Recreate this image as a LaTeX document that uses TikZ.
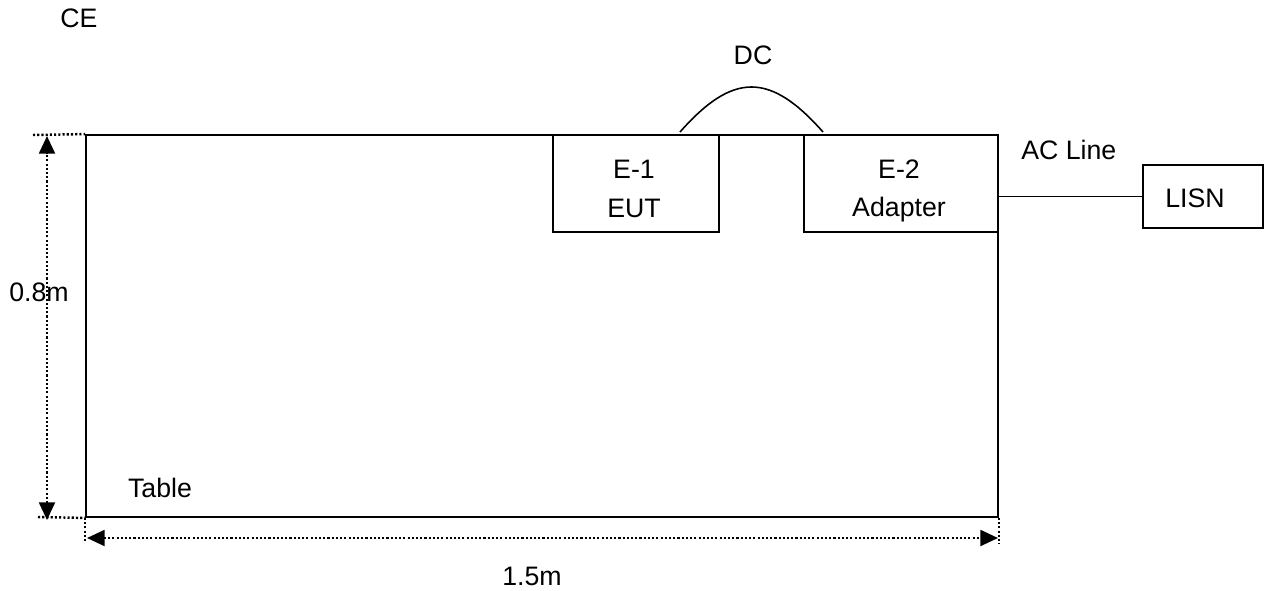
\documentclass[tikz,border=0pt]{standalone}
\usepackage{fontspec}
\setmainfont{Liberation Sans}
\usetikzlibrary{arrows.meta, positioning, calc}

\begin{document}
\begin{tikzpicture}[x=0.02cm, y=-0.02cm,
      font=\fontsize{15.2}{22}\selectfont,
      box/.style={rectangle, draw=black, line width=0.9pt, inner sep=0pt},
      lbl/.style={inner sep=0pt, align=center},
      dim/.style={line width=1.4pt, dash pattern=on 1.2pt off 1.2pt, {Triangle[length=10pt,width=9pt]}-{Triangle[length=10pt,width=9pt]}},
      ext/.style={line width=1.4pt, dash pattern=on 1.2pt off 1.2pt},
      cable/.style={line width=0.9pt}
    ]
      \useasboundingbox (0,0) rectangle (1271,591);

      \node[box, line width=1.1pt, minimum width=18.24cm, minimum height=7.64cm] (table) at (542,326) {};
      \node[box, minimum width=3.32cm, minimum height=1.94cm] (E1) at (636,183.5) {};
      \node[box, minimum width=3.88cm, minimum height=1.94cm] (E2) at (901,183.5) {};
      \node[box, minimum width=2.4cm, minimum height=1.26cm] (LISN) at (1203,196.5) {};

      \node[lbl] (E1txt) at (634,189) {E-1\\EUT};
      \node[lbl] (E2txt) at (899,191) {E-2\\Adapter};
      \node[lbl] (LISNtxt) at (1195,198) {LISN};
      \node[lbl, anchor=west] (ACtxt) at (1021,149.5) {AC Line};
      \node[lbl] (DCtxt) at (753,55) {DC};
      \node[lbl] (CEtxt) at (79,18) {CE};
      \node[lbl] (tabletxt) at (160,488) {Table};
      \node[lbl] (htxt) at (39,292) {0.8m};
      \node[lbl] (wtxt) at (532,576) {1.5m};

      \coordinate (dcA) at (680,132);
      \coordinate (dcB) at (823,132);
      \draw[cable] (dcA) .. controls (733,72) and (770,72) .. (dcB);
      \draw[cable] (LISN.west) -- (LISN.west -| E2.east);

      \coordinate (topL) at (33,135);
      \coordinate (botL) at (38,517);
      \coordinate (vTop) at (47,136);
      \coordinate (vBot) at (47,520);
      \coordinate (hL) at (87,538);
      \coordinate (hR) at (998,538);
      \draw[ext] (topL) -- (table.north west);
      \draw[ext] (botL) -- (table.south west);
      \draw[ext] (table.south west) -- ++(0,24);
      \draw[ext] (table.south east) -- ++(0,26);
      \draw[dim] (vBot) -- (vTop);
      \draw[dim] (hL) -- (hR);
    \end{tikzpicture}
\end{document}
